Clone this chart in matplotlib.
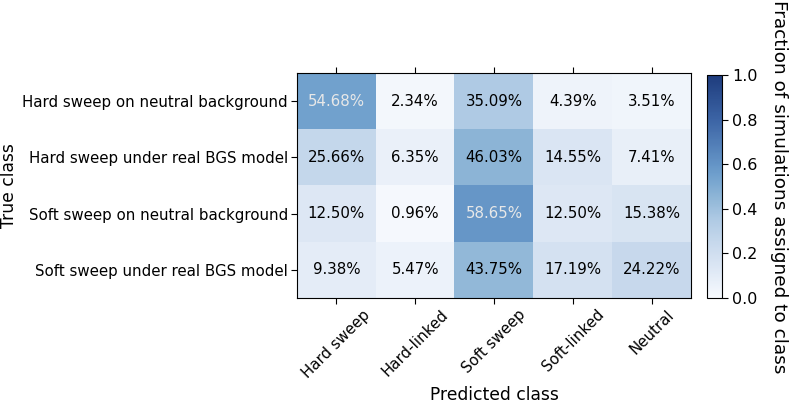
import numpy as np
import matplotlib
matplotlib.use("Agg")
import matplotlib.pyplot as plt
from matplotlib.colors import LinearSegmentedColormap

true_classes = ["Hard sweep on neutral background", "Hard sweep under real BGS model",
                "Soft sweep on neutral background", "Soft sweep under real BGS model"]
pred_classes = ["Hard sweep", "Hard-linked", "Soft sweep", "Soft-linked", "Neutral"]

row_hard_neutral = [0.5468, 0.0234, 0.3509, 0.0439, 0.0351]
row_hard_bgs = [0.2566, 0.0635, 0.4603, 0.1455, 0.0741]
row_soft_neutral = [0.1250, 0.0096, 0.5865, 0.1250, 0.1538]
row_soft_bgs = [0.0938, 0.0547, 0.4375, 0.1719, 0.2422]

cm = np.array([row_hard_neutral, row_hard_bgs, row_soft_neutral, row_soft_bgs])

# muted blues, looks like Blues with some transparency
stops = [(0.0, (247, 250, 254)), (0.125, (222, 232, 245)), (0.25, (198, 216, 236)),
         (0.35, (175, 202, 228)), (0.45, (143, 182, 215)), (0.55, (112, 160, 205)),
         (0.6, (100, 148, 198)), (0.8, (60, 100, 165)), (1.0, (30, 60, 125))]
cmap = LinearSegmentedColormap.from_list("mblues", [(p, tuple(c/255 for c in rgb)) for p, rgb in stops])

fig = plt.figure(figsize=(7.92, 4.07), dpi=100)
ax = fig.add_axes([297/792, 1-298/407, 394/792, 225/407])
im = ax.imshow(cm, cmap=cmap, vmin=0, vmax=1, aspect="auto", interpolation="nearest")

for i in range(cm.shape[0]):
  for j in range(cm.shape[1]):
    clr = "#e8e8e8" if cm[i, j] > 0.5 else "black"
    ax.text(j, i, "%.2f%%" % (cm[i, j]*100), ha="center", va="center", color=clr, fontsize=10.8)

ax.set_xticks(range(len(pred_classes)))
ax.set_xticklabels(pred_classes, rotation=45, fontsize=10.8)
ax.set_yticks(range(len(true_classes)))
ax.set_yticklabels(true_classes, fontsize=10.8)
ax.tick_params(top=True, length=4, pad=2.5)
ax.set_xlabel("Predicted class", fontsize=12.3)
ax.set_ylabel("True class", fontsize=12.3)
ax.yaxis.set_label_coords(-0.708, 0.5)

cax = fig.add_axes([707/792, 1-298/407, 15/792, 223/407])
cb = fig.colorbar(im, cax=cax)
cb.set_ticks([0, 0.2, 0.4, 0.6, 0.8, 1.0])
cb.ax.tick_params(labelsize=11.5, length=4)
cb.set_label("Fraction of simulations assigned to class", fontsize=13.3, rotation=270, labelpad=22)

fig.savefig("out.png", dpi=100)
